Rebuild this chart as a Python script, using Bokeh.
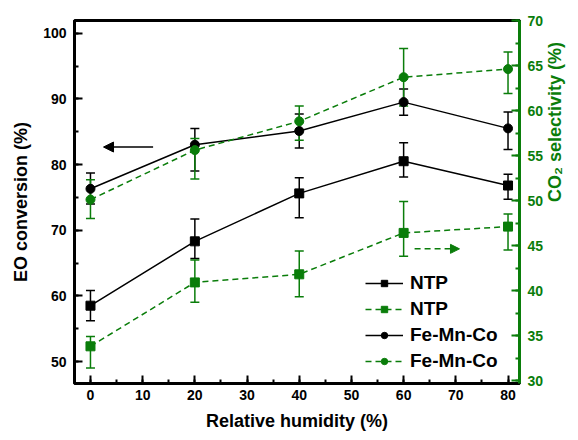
import math
from bokeh.plotting import figure
from bokeh.models import (ColumnDataSource, LinearAxis, Range1d, Whisker, TeeHead,
                          Legend, LegendItem, Arrow, NormalHead, SingleIntervalTicker)
from bokeh.embed import file_html
from bokeh.resources import INLINE

# Relative humidity (%)
humidity = [0, 20, 40, 60, 80]

# EO conversion (%) - left axis
ntp_conv = [58.5, 68.3, 75.6, 80.5, 76.8]
ntp_conv_lo = [56.2, 65.7, 71.9, 78.1, 74.7]
ntp_conv_hi = [60.8, 71.7, 78.0, 83.3, 78.5]
fmc_conv = [76.3, 83.0, 85.1, 89.5, 85.5]
fmc_conv_lo = [74.0, 79.0, 82.5, 87.5, 82.3]
fmc_conv_hi = [78.7, 85.5, 87.7, 91.5, 88.0]

# CO2 selectivity (%) - right axis
ntp_sel = [33.8, 40.9, 41.8, 46.4, 47.1]
ntp_sel_lo = [31.4, 38.7, 39.3, 43.8, 44.5]
ntp_sel_hi = [34.9, 43.4, 44.4, 49.9, 48.5]
fmc_sel = [50.1, 55.6, 58.8, 63.7, 64.6]
fmc_sel_lo = [48.0, 52.4, 56.7, 60.5, 61.9]
fmc_sel_hi = [52.3, 56.9, 60.5, 66.9, 66.5]

GREEN = "#0a7d0a"
FONT = "Liberation Sans"

p = figure(width=578, height=440, output_backend="svg", toolbar_location=None,
           x_range=Range1d(-3.06, 82.2), y_range=Range1d(46.65, 101.93),
           min_border_left=74, min_border_right=58, min_border_top=20,
           min_border_bottom=57, x_axis_type=None, y_axis_type=None)
p.extra_y_ranges = {"sel": Range1d(29.67, 70)}
p.xgrid.visible = False
p.ygrid.visible = False
p.background_fill_color = "white"
p.border_fill_color = "white"
p.outline_line_color = "black"
p.outline_line_width = 3


def style_axis(ax, color, ticker):
    ax.ticker = ticker
    ax.axis_line_color = color
    ax.axis_line_width = 3
    ax.major_tick_line_color = color
    ax.minor_tick_line_color = color
    ax.major_tick_line_width = 2
    ax.minor_tick_line_width = 2
    ax.major_tick_in = 8
    ax.major_tick_out = 0
    ax.minor_tick_in = 4
    ax.minor_tick_out = 0
    ax.major_label_text_color = color
    ax.major_label_text_font = FONT
    ax.major_label_text_font_style = "bold"
    ax.major_label_text_font_size = "14px"
    ax.axis_label_text_color = color
    ax.axis_label_text_font = FONT
    ax.axis_label_text_font_style = "bold"
    ax.axis_label_text_font_size = "18px"


xa = LinearAxis(axis_label="Relative humidity (%)")
style_axis(xa, "black", SingleIntervalTicker(interval=10, num_minor_ticks=2))
xa.major_label_standoff = 6
xa.axis_label_standoff = 8
p.add_layout(xa, "below")

ya = LinearAxis(axis_label="EO conversion (%)")
style_axis(ya, "black", SingleIntervalTicker(interval=10, num_minor_ticks=2))
ya.major_label_standoff = 8
ya.axis_label_standoff = 9
p.add_layout(ya, "left")

ra = LinearAxis(y_range_name="sel", axis_label="CO\u2082 selectivity (%)")
style_axis(ra, GREEN, SingleIntervalTicker(interval=5, num_minor_ticks=2))
ra.major_label_standoff = 8
ra.axis_label_standoff = 9
ra.axis_label_orientation = math.pi / 2
p.add_layout(ra, "right")

NAN = float("nan")


def series(y, lo, hi, color, marker, dash, range_name="default"):
    src = ColumnDataSource(dict(x=humidity, y=y, lo=lo, hi=hi))
    w = Whisker(base="x", lower="lo", upper="hi", source=src,
                line_color=color, line_width=1.5,
                upper_head=TeeHead(size=9, line_color=color, line_width=1.5),
                lower_head=TeeHead(size=9, line_color=color, line_width=1.5),
                y_range_name=range_name)
    p.add_layout(w)
    p.line("x", "y", source=src, line_color=color, line_width=1.5,
           line_dash=dash, y_range_name=range_name)
    p.scatter("x", "y", source=src, marker=marker, size=9,
              fill_color=color, line_color=color, y_range_name=range_name)
    # legend swatch: same styling, nothing drawn in the frame
    blank = ColumnDataSource(dict(x=[NAN], y=[NAN]))
    lg_line = p.line("x", "y", source=blank, line_color=color, line_width=1.5,
                     line_dash=dash, y_range_name=range_name)
    lg_mark = p.scatter("x", "y", source=blank, marker=marker, size=6,
                        fill_color=color, line_color=color, y_range_name=range_name)
    return [lg_line, lg_mark]


ntp_c = series(ntp_conv, ntp_conv_lo, ntp_conv_hi, "black", "square", "solid")
fmc_c = series(fmc_conv, fmc_conv_lo, fmc_conv_hi, "black", "circle", "solid")
ntp_s = series(ntp_sel, ntp_sel_lo, ntp_sel_hi, GREEN, "square", "6 4", "sel")
fmc_s = series(fmc_sel, fmc_sel_lo, fmc_sel_hi, GREEN, "circle", "6 4", "sel")

# Arrows pointing to the axis each series belongs to
p.add_layout(Arrow(end=NormalHead(size=10, fill_color="black", line_color="black"),
                   x_start=12, y_start=82.66, x_end=2.5, y_end=82.66,
                   line_color="black", line_width=1.5))
p.add_layout(Arrow(end=NormalHead(size=9, fill_color=GREEN, line_color=GREEN),
                   x_start=62.1, y_start=44.63, x_end=70.7, y_end=44.63,
                   line_color=GREEN, line_width=1.5, line_dash="6 4",
                   y_range_name="sel"))

legend = Legend(items=[
    LegendItem(label="NTP", renderers=ntp_c),
    LegendItem(label="NTP", renderers=ntp_s),
    LegendItem(label="Fe-Mn-Co", renderers=fmc_c),
    LegendItem(label="Fe-Mn-Co", renderers=fmc_s),
], location=(291, 9))
legend.padding = 0
legend.margin = 0
legend.spacing = 0
legend.glyph_width = 38
legend.glyph_height = 16
legend.label_height = 26
legend.label_standoff = 7
legend.label_text_font = FONT
legend.label_text_font_style = "bold"
legend.label_text_font_size = "19px"
legend.label_text_color = "black"
legend.border_line_alpha = 0
legend.background_fill_alpha = 0
p.add_layout(legend, "center")

open("out.html", "w").write(file_html(p, INLINE))
